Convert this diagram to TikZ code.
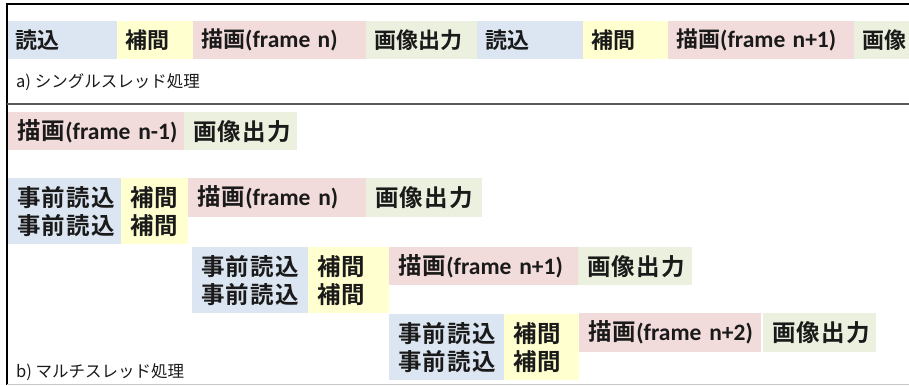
\documentclass[tikz,border=0pt]{standalone}
\usepackage{fontspec}
\newfontfamily\jpfont{Noto Sans CJK JP}[BoldFont={* Bold}]
\newfontfamily\jpwide{Noto Sans CJK JP}[BoldFont={* Bold}, LetterSpace=5]
\newfontfamily\latfont{Carlito}
\newcommand\latw[1]{\mbox{\latfont\bfseries\fontsize{23.5}{28}\selectfont#1}}
\newcommand\drw[1]{\mbox{描画\latw{#1}}}
\definecolor{cblue}{HTML}{DCE6F2}
\definecolor{cyel}{HTML}{FFFFD0}
\definecolor{cpink}{HTML}{F2DCDB}
\definecolor{cgreen}{HTML}{EBF1DE}
\definecolor{ctext}{HTML}{1A1A1A}
\tikzset{
  boxa/.style={anchor=north west, inner ysep=0pt, inner xsep=8pt, align=left,
    text=ctext, font=\jpfont\bfseries\fontsize{22}{28}\selectfont},
  boxb/.style={anchor=north west, inner ysep=0pt, inner xsep=9pt, align=left,
    text=ctext, font=\jpwide\bfseries\fontsize{23.5}{28}\selectfont},
  lbl/.style={anchor=west, inner sep=0pt, text=ctext, font=\jpfont\fontsize{16.5}{18}\selectfont},
}
\begin{document}
\begin{tikzpicture}[x=1pt,y=-1pt]
\useasboundingbox (0,0) rectangle (909,385);
\begin{scope}
\clip (0,0) rectangle (909,385);
% row a
\node[boxa, fill=cblue,  text width=94pt,  minimum height=38pt] (a1) at (7,21)   {読込};
\node[boxa, fill=cyel,   text width=60pt,  minimum height=38pt] (a2) at (117,21) {補間};
\node[boxa, fill=cpink,  text width=157pt, minimum height=38pt] (a3) at (193,21) {\drw{(frame n)}};
\node[boxa, fill=cgreen, text width=95pt,  minimum height=38pt] (a4) at (366,21) {画像出力};
\node[boxa, fill=cblue,  text width=90pt,  minimum height=38pt] (a5) at (477,21) {読込};
\node[boxa, fill=cyel,   text width=69pt,  minimum height=38pt] (a6) at (583,21) {補間};
\node[boxa, fill=cpink,  text width=170pt, minimum height=38pt] (a7) at (668,21) {\drw{(frame n+1)}};
\node[boxa, fill=cgreen, text width=60pt,  minimum height=38pt] (a8) at (854,21) {画像};
\node[lbl] (la) at (16,82) {a) シングルスレッド処理};
% row b1
\node[boxb, fill=cpink,  text width=158pt, minimum height=38pt] (b1) at (8,112)  {\drw{(frame n-1)}};
\node[boxb, fill=cgreen, text width=95pt,  minimum height=38pt] (b2) at (184,112) {画像出力};
% row b2
\node[boxb, fill=cblue,  text width=95pt,  minimum height=66pt] (c1) at (8,178)   {事前読込\\事前読込};
\node[boxb, fill=cyel,   text width=49pt,  minimum height=66pt] (c2) at (121,178) {補間\\補間};
\node[boxb, fill=cpink,  text width=160pt, minimum height=39pt] (c3) at (188,178) {\drw{(frame n)}};
\node[boxb, fill=cgreen, text width=98pt,  minimum height=39pt] (c4) at (366,178) {画像出力};
% row b3
\node[boxb, fill=cblue,  text width=98pt,  minimum height=66pt] (d1) at (192,247) {事前読込\\事前読込};
\node[boxb, fill=cyel,   text width=63pt,  minimum height=66pt] (d2) at (308,247) {補間\\補間};
\node[boxb, fill=cpink,  text width=171pt, minimum height=38pt] (d3) at (389,247) {\drw{(frame n+1)}};
\node[boxb, fill=cgreen, text width=96pt,  minimum height=38pt] (d4) at (578,247) {画像出力};
% row b4
\node[boxb, fill=cblue,  text width=97pt,  minimum height=66pt] (e1) at (389,314) {事前読込\\事前読込};
\node[boxb, fill=cyel,   text width=57pt,  minimum height=66pt] (e2) at (504,314) {補間\\補間};
\node[boxb, fill=cpink,  text width=164pt, minimum height=39pt] (e3) at (579,313) {\drw{(frame n+2)}};
\node[boxb, fill=cgreen, text width=95pt,  minimum height=39pt] (e4) at (763,313) {画像出力};
\node[lbl] (lb) at (16,372) {b) マルチスレッド処理};
% frame
\coordinate (fl) at (7,385);
\coordinate (ftl) at (7,4);
\coordinate (ftr) at (909,4);
\coordinate (dl) at (7,104);
\coordinate (dr) at (909,104);
\coordinate (bl) at (7,384);
\coordinate (br) at (909,384);
\draw[line width=1.4pt, black] (fl) -- (ftl) -- (ftr);
\draw[line width=1.6pt, black!65] (dl) -- (dr);
\draw[line width=1pt, black!22] (bl) -- (br);
\end{scope}
\end{tikzpicture}
\end{document}
